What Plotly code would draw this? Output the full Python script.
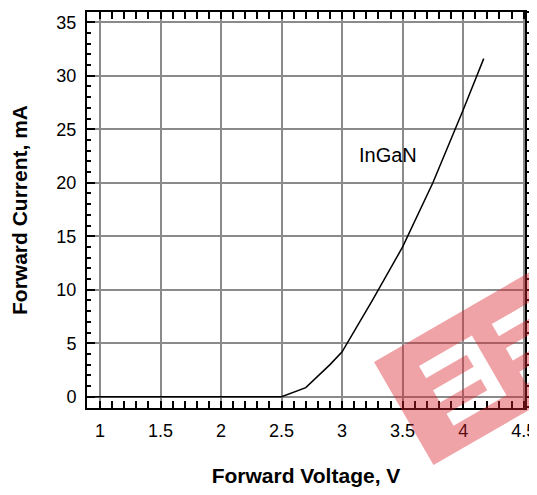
import math
import plotly.graph_objects as go

# ---- data ----
voltage = [0.9, 2.5, 2.7, 2.9, 3.0, 3.25, 3.5, 3.75, 4.0, 4.17]
current = [0.0, 0.0, 0.85, 3.0, 4.2, 9.0, 14.0, 20.0, 26.8, 31.6]
series_label = "InGaN"
x_ticks = [1, 1.5, 2, 2.5, 3, 3.5, 4, 4.5]
x_tick_text = ["1", "1.5", "2", "2.5", "3", "3.5", "4", "4.5"]
y_ticks = [0, 5, 10, 15, 20, 25, 30, 35]
x_title = "Forward Voltage, V"
y_title = "Forward Current, mA"

# the page body has an 8px margin, so the figure starts at (8, 8) on screen
OFF = 8
W, H = 537 - OFF, 495 - 2 * OFF
PLOT_L, PLOT_R, PLOT_T, PLOT_B = 87, 525, 12, 408   # screen pixels
ML, MR, MT = PLOT_L - OFF, W - (PLOT_R - OFF), PLOT_T - OFF
MB = H - (PLOT_B - OFF)
PW, PH = W - ML - MR, H - MT - MB
XR = [0.8926, 4.511]
YR = [-1.056, 35.96]

FONT = "Liberation Sans, Arial, sans-serif"
GRID = "#8a8a8a"

fig = go.Figure()
fig.add_trace(go.Scatter(x=voltage, y=current, mode="lines",
                         line=dict(color="black", width=1.5),
                         showlegend=False, hoverinfo="skip"))
fig.add_trace(go.Scatter(x=[XR[0]], y=[YR[0]], yaxis="y2", mode="markers",
                         marker=dict(opacity=0), showlegend=False, hoverinfo="skip"))

fig.add_annotation(x=3.38, y=22.6, text=series_label, showarrow=False,
                   font=dict(size=20, color="black", family=FONT))

axis_common = dict(showline=True, linecolor="black", linewidth=2,
                   tickcolor="black", tickwidth=2, zeroline=False, automargin=False,
                   tickfont=dict(size=18, color="black", family=FONT))

fig.update_layout(
    width=W, height=H,
    margin=dict(l=ML, r=MR, t=MT, b=MB, pad=0, autoexpand=False),
    paper_bgcolor="white", plot_bgcolor="white",
    font=dict(family=FONT, color="black"),
    xaxis=dict(range=XR, tickmode="array", tickvals=x_ticks, ticktext=x_tick_text,
               ticks="inside", ticklen=7, mirror="allticks",
               showgrid=True, gridcolor=GRID, gridwidth=1.5,
               ticklabelstandoff=5,
               minor=dict(ticks="inside", dtick=0.1, ticklen=4, tickwidth=1.5,
                          tickcolor="black", showgrid=False),
               title=dict(text="<b>" + x_title + "</b>", standoff=29,
                          font=dict(size=21, color="black", family=FONT)),
               **axis_common),
    yaxis=dict(range=YR, tickmode="array", tickvals=y_ticks,
               ticks="inside", ticklen=8,
               showgrid=True, gridcolor=GRID, gridwidth=1.5,
               ticklabelstandoff=5,
               minor=dict(ticks="inside", dtick=1, ticklen=4, tickwidth=1.5,
                          tickcolor="black", showgrid=False),
               title=dict(text="<b>" + y_title + "</b>", standoff=28,
                          font=dict(size=21, color="black", family=FONT)),
               **axis_common),
    yaxis2=dict(range=YR, overlaying="y", side="right", tickmode="array",
                tickvals=y_ticks, ticks="outside", ticklen=8, showticklabels=False,
                showgrid=False,
                minor=dict(ticks="outside", dtick=1, ticklen=5, tickwidth=1.5,
                           tickcolor="black", showgrid=False),
                **axis_common),
)

# top border continues to the image edge
fig.add_shape(type="line", xref="paper", yref="paper", x0=1, x1=1 + 14 / PW,
              y0=1, y1=1, line=dict(color="black", width=2))

# ---- watermark (rotated red "EE" logo, decorative) ----
def px_to_paper(px, py):
    # screen pixels -> paper coordinates
    return (px - PLOT_L) / PW, (PLOT_B - py) / PH

A = (374.0, 362.0)
ang = math.radians(30)
u = (math.cos(ang), -math.sin(ang))
v = (math.sin(ang), math.cos(ang))

def local(s, t):
    return px_to_paper(A[0] + s * u[0] + t * v[0], A[1] + s * u[1] + t * v[1])

def poly(pts):
    p = [local(s, t) for s, t in pts]
    return "M" + " L".join(f"{x:.4f},{y:.4f}" for x, y in p) + " Z"

band = poly([(0, 0), (225, 0), (225, 119), (0, 119)])

def letter(s0, s1, stem):
    # E with its stem at the far side (s1), arms reaching toward s0
    t0, t1 = 26, 95
    a = 14
    m0, m1 = 54, 68
    pts = [(s0, t0), (s1, t0), (s1, t1), (s0, t1), (s0, t1 - a), (s1 - stem, t1 - a),
           (s1 - stem, m1), (s0, m1), (s0, m0), (s1 - stem, m0),
           (s1 - stem, t0 + a), (s0, t0 + a)]
    return poly(pts)

path = band + " " + letter(37, 98, 14) + " " + letter(121, 186, 14)
fig.add_shape(type="path", path=path, xref="paper", yref="paper",
              fillcolor="rgba(217,35,46,0.42)", line=dict(width=0),
              fillrule="evenodd", layer="above")

fig.write_html("out.html")
